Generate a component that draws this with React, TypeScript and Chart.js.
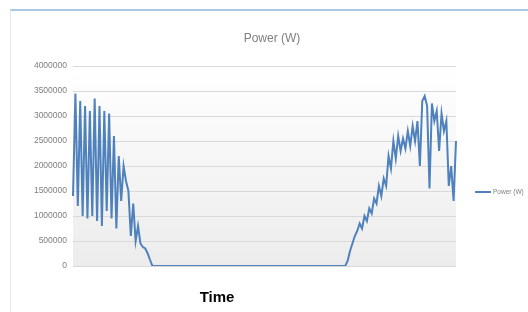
import React, { useEffect, useRef } from "react";
import { Chart, registerables } from "chart.js";

Chart.register(...registerables);

const TITLE = "Power (W)";
const SERIES_NAME = "Power (W)";
const X_TITLE = "Time";
const Y_TICKS = [0, 500000, 1000000, 1500000, 2000000, 2500000, 3000000, 3500000, 4000000];

// morning decline (heavy oscillation)
const morning = [
  1400000, 3450000, 1200000, 3300000, 1000000, 3200000, 950000, 3100000, 1000000, 3350000,
  900000, 3200000, 800000, 3100000, 1100000, 3050000, 950000, 2600000, 750000, 2200000,
  1300000, 2000000, 1700000, 1500000, 600000, 1250000, 500000, 800000, 450000, 380000,
  350000, 250000, 120000, 0,
];
// idle period
const idle = [
  0, 0, 0, 0, 0, 0, 0, 0, 0, 0, 0, 0, 0, 0, 0, 0, 0, 0, 0, 0,
  0, 0, 0, 0, 0, 0, 0, 0, 0, 0, 0, 0, 0, 0, 0, 0, 0, 0, 0, 0,
  0, 0, 0, 0, 0, 0, 0, 0, 0, 0, 0, 0, 0, 0, 0, 0, 0, 0, 0, 0,
  0, 0, 0, 0, 0, 0, 0, 0, 0, 0, 0, 0, 0, 0, 0, 0, 0, 0, 0, 0,
];
// evening rise
const evening = [
  100000, 300000, 450000, 600000, 700000, 850000, 750000, 1000000, 900000, 1150000,
  1050000, 1350000, 1250000, 1600000, 1400000, 1750000, 1600000, 2200000, 1950000, 2500000,
  2150000, 2600000, 2300000, 2550000, 2350000, 2700000, 2400000, 2800000, 2500000, 2900000,
  2000000, 3300000, 3400000, 3200000, 1550000, 3250000, 2900000, 3100000, 2300000, 3050000,
  2700000, 2900000, 1600000, 2000000, 1300000, 2500000,
];

const values = [...morning, ...idle, ...evening];
const labels = values.map((_, i) => String(i + 1));

const LINE_COLOR = "#4f81bd";
const FONT = "'Liberation Sans', Arial, sans-serif";

const decor = {
  id: "decor",
  beforeDraw(chart: any) {
    const { ctx, chartArea } = chart;
    const g = ctx.createLinearGradient(0, chartArea.top, 0, chartArea.bottom);
    g.addColorStop(0, "#ffffff");
    g.addColorStop(1, "#ececec");
    ctx.save();
    ctx.fillStyle = g;
    ctx.fillRect(chartArea.left, chartArea.top, chartArea.right - chartArea.left, chartArea.bottom - chartArea.top);
    ctx.restore();
  },
  afterDraw(chart: any) {
    const { ctx } = chart;
    ctx.save();
    ctx.textBaseline = "middle";
    ctx.textAlign = "center";
    ctx.fillStyle = "#7f7f7f";
    ctx.font = `12px ${FONT}`;
    ctx.fillText(TITLE, 272, 39);

    ctx.fillStyle = "#000000";
    ctx.font = `bold 15px ${FONT}`;
    ctx.fillText(X_TITLE, 217, 298);

    ctx.strokeStyle = LINE_COLOR;
    ctx.lineWidth = 2;
    ctx.beginPath();
    ctx.moveTo(475, 192);
    ctx.lineTo(491, 192);
    ctx.stroke();
    ctx.textAlign = "left";
    ctx.fillStyle = "#7f7f7f";
    ctx.font = `6.5px ${FONT}`;
    ctx.fillText(SERIES_NAME, 493, 192);
    ctx.restore();
  },
};

export default function App() {
  const ref = useRef<HTMLCanvasElement>(null);
  useEffect(() => {
    if (!ref.current) return;
    const chart = new Chart(ref.current, {
      type: "line",
      data: {
        labels,
        datasets: [
          {
            label: SERIES_NAME,
            data: values,
            borderColor: LINE_COLOR,
            borderWidth: 2,
            pointRadius: 0,
            tension: 0,
            fill: false,
          },
        ],
      },
      options: {
        animation: false,
        responsive: false,
        maintainAspectRatio: false,
        layout: { padding: { left: 0, right: 72, top: 66, bottom: 46 } },
        plugins: { legend: { display: false }, title: { display: false }, tooltip: { enabled: false } },
        scales: {
          x: {
            display: false,
            offset: false,
          },
          y: {
            min: 0,
            max: 4000000,
            afterFit: (s: any) => {
              s.width = 73;
            },
            afterBuildTicks: (s: any) => {
              s.ticks = Y_TICKS.map((v) => ({ value: v }));
            },
            border: { display: false },
            grid: { color: "#d9d9d9", drawTicks: false, lineWidth: 1 },
            ticks: {
              padding: 6,
              color: "#7f7f7f",
              font: { family: FONT, size: 8.5 },
              callback: (v: any) => String(v),
            },
          },
        },
      },
      plugins: [decor],
    });
    return () => chart.destroy();
  }, []);
  return (
    <div style={{ position: "fixed", left: 0, top: 0, width: 528, height: 312, background: "#fff" }}>
      <div
        style={{
          position: "absolute",
          left: 10,
          top: 9,
          width: 518,
          height: 303,
          borderTop: "2px solid #a9c9e6",
          borderLeft: "1px solid #dfe8ef",
          boxSizing: "border-box",
        }}
      />
      <canvas ref={ref} width={528} height={312} style={{ position: "absolute", left: 0, top: 0 }} />
    </div>
  );
}
